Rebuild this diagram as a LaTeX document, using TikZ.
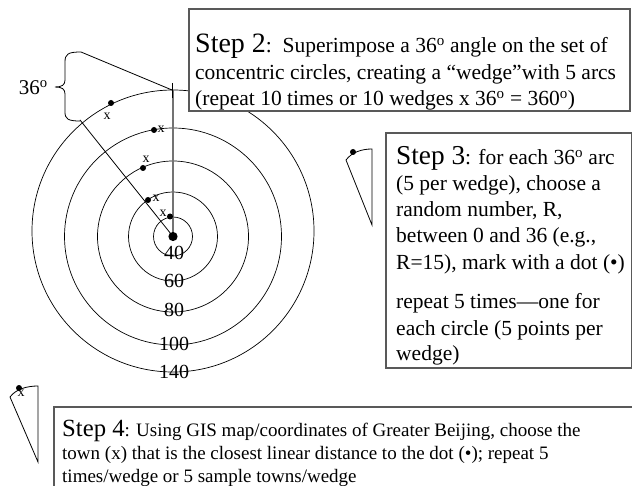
\documentclass[tikz,border=0pt]{standalone}
\usepackage{fontspec}
\setmainfont{Liberation Serif}
\newcommand\myBodyA{\fontsize{21.5bp}{26bp}\selectfont}
\newcommand\myBodyB{\fontsize{19bp}{23bp}\selectfont}
\newcommand\myStepA{\fontsize{28bp}{30bp}\selectfont}
\newcommand\myStepB{\fontsize{27.3bp}{30bp}\selectfont}
\newcommand\myStepC{\fontsize{24.7bp}{28bp}\selectfont}
\newcommand\dg{\textsuperscript{o}}
\tikzset{
  ring/.style={draw=black, line width=0.7bp},
  ray/.style={draw=black, line width=0.8bp},
  grayray/.style={draw=black!55, line width=1.1bp},
  boxline/.style={draw=black!65, line width=1.1bp, fill=white},
  txt/.style={anchor=base west, inner sep=0pt},
  xlab/.style={inner sep=0pt, font=\fontsize{14bp}{14bp}\selectfont},
  clab/.style={inner sep=0pt, font=\fontsize{20bp}{20bp}\selectfont},
}
\begin{document}
\begin{tikzpicture}[x=1bp,y=-1bp]
\useasboundingbox (0,0) rectangle (632,486);
% concentric circles
\coordinate (c) at (173,236.5);
\draw[ring] (173,231) circle[radius=141bp];
\draw[ring] (c) circle[radius=108.5bp];
\draw[ring] (c) circle[radius=75.5bp];
\draw[ring] (c) circle[radius=44.5bp];
\draw[ring] (c) circle[radius=19.5bp];
% wedge lines
\coordinate (wtop) at (173,90);
\coordinate (wleft) at (80,120);
\draw[grayray] (c) -- (wtop);
\draw[ray] (c) -- (wleft);
\draw[line width=1bp] (172,83) -- (172,98);
% brace
\coordinate (bt) at (81,52);
\draw[ray] (bt) -- (172,90);
\draw[ray] (bt) .. controls (68,52) and (65,54) .. (65,62) -- (65,80)
  .. controls (65,85) and (62,87) .. (55,87)
  .. controls (62,87) and (65,89) .. (65,94) -- (65,112)
  .. controls (65,119) and (68,121) .. (80,121);
\node[anchor=base east, inner sep=0pt, font=\fontsize{21bp}{21bp}\selectfont] (ang) at (48,95) {36\dg};
% dots and towns
\fill (c) circle[radius=4.6bp];
\fill (111,103) circle[radius=3bp];
\fill (154,130) circle[radius=3bp];
\fill (143,168) circle[radius=3bp];
\fill (148,200) circle[radius=3bp];
\fill (170,216.5) circle[radius=3bp];
\node[xlab] (x1) at (107,116) {x};
\node[xlab] (x2) at (161,129) {x};
\node[xlab] (x3) at (146,159) {x};
\node[xlab] (x4) at (156,198) {x};
\node[xlab] (x5) at (163,213) {x};
% circle labels
\node[clab] (l40) at (174,253) {40};
\node[clab] (l60) at (174,281) {60};
\node[clab] (l80) at (174,310) {80};
\node[clab] (l100) at (174,344) {100};
\node[clab] (l140) at (174,372) {140};
% Step 2 box
\draw[boxline] (189,9) rectangle (630,111);
\node[txt] (s2a) at (195,53) {\myStepA Step 2\myBodyA:\ \ Superimpose a 36\dg\ angle on the set of};
\node[txt] (s2b) at (195,80) {\myBodyA concentric circles, creating a “wedge”with 5 arcs};
\node[txt] (s2c) at (195,106) {\myBodyA (repeat 10 times or 10 wedges x 36\dg\ = 360\dg)};
% small wedge 1
\fill (353,152) circle[radius=3bp];
\draw[ray] (346,160) .. controls (352,152) and (362,149) .. (372,149) -- (372,225) -- cycle;
% Step 3 box
\draw[boxline] (386,133) rectangle (631.4,368);
\node[txt] (s3a) at (396,165) {\myStepB Step 3\myBodyA: for each 36\dg\ arc};
\node[txt] (s3b) at (396,191) {\myBodyA (5 per wedge), choose a};
\node[txt] (s3c) at (396,217) {\myBodyA random number, R,};
\node[txt] (s3d) at (396,243) {\myBodyA between 0 and 36 (e.g.,};
\node[txt] (s3e) at (396,269) {\myBodyA R=15), mark with a dot (•)};
\node[txt] (s3f) at (396,308) {\myBodyA repeat 5 times—one for};
\node[txt] (s3g) at (396,335) {\myBodyA each circle (5 points per};
\node[txt] (s3h) at (396,360) {\myBodyA wedge)};
% small wedge 2
\fill (19,388) circle[radius=3bp];
\draw[ray] (10,397) .. controls (16,389) and (27,386) .. (38,386) -- (38,462) -- cycle;
\node[xlab] (x6) at (21,393) {x};
% Step 4 box
\draw[boxline] (54,407) rectangle (660,520);
\node[txt] (s4a) at (62,436) {\myStepC Step 4\myBodyB: Using GIS map/coordinates of Greater Beijing, choose the};
\node[txt] (s4b) at (62,459) {\myBodyB town (x) that is the closest linear distance to the dot (•); repeat 5};
\node[txt] (s4c) at (62,482) {\myBodyB times/wedge or 5 sample towns/wedge};
\end{tikzpicture}
\end{document}
